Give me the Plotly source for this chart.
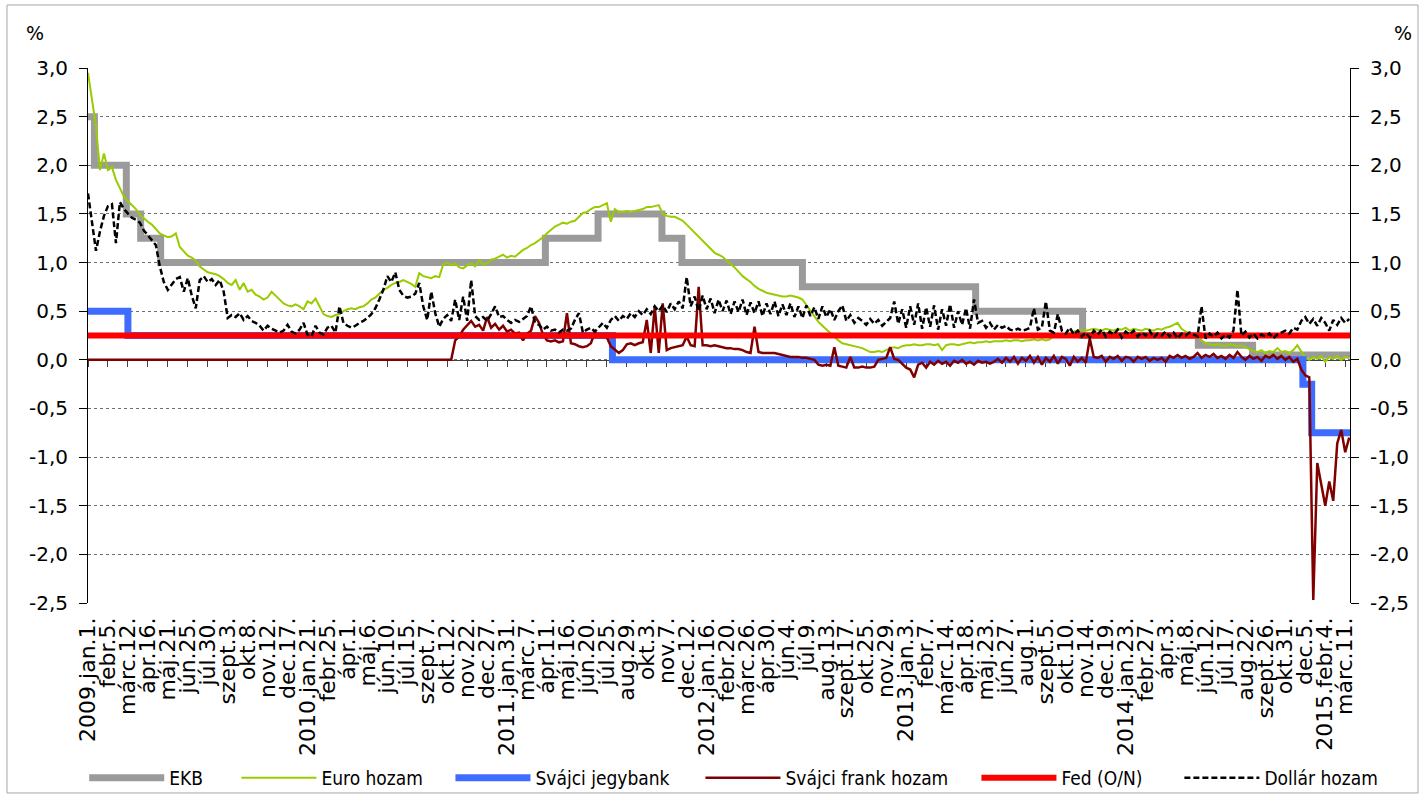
import plotly.graph_objects as go

# ---- category labels (every 25th business day) ----
tick_labels = [
    "2009.jan.1.", "febr.5.", "márc.12.", "ápr.16.", "máj.21.", "jún.25.", "júl.30.",
    "szept.3.", "okt.8.", "nov.12.", "dec.17.",
    "2010.jan.21.", "febr.25.", "ápr.1.", "máj.6.", "jún.10.", "júl.15.", "szept.7.",
    "okt.12.", "nov.22.", "dec.27.",
    "2011.jan.31.", "márc.7.", "ápr.11.", "máj.16.", "jún.20.", "júl.25.", "aug.29.",
    "okt.3.", "nov.7.", "dec.12.",
    "2012.jan.16.", "febr.20.", "márc.26.", "ápr.30.", "jún.4.", "júl.9.", "aug.13.",
    "szept.17.", "okt.25.", "nov.29.",
    "2013.jan.3.", "febr.7.", "márc.14.", "ápr.18.", "máj.23.", "jún.27.", "aug.1.",
    "szept.5.", "okt.10.", "nov.14.", "dec.19.",
    "2014.jan.23.", "febr.27.", "ápr.3.", "máj.8.", "jún.12.", "júl.17.", "aug.22.",
    "szept.26.", "okt.31.", "dec.5.",
    "2015.febr.4.", "márc.11.",
]
LABEL_EVERY = 25          # business days between category labels
LAST_DAY = 1581           # last business-day index shown

# ---- policy rates (step series: business-day index of change, new level) ----
ekb_day = [0, 8, 48, 66, 91, 573, 639, 719, 744, 895, 1112, 1246, 1391, 1459, 1581]
ekb_rate = [2.5, 2.0, 1.5, 1.25, 1.0, 1.25, 1.5, 1.25, 1.0, 0.75, 0.5, 0.25, 0.15, 0.05, 0.05]

snb_day = [0, 50, 657, 1522, 1533, 1581]
snb_rate = [0.5, 0.25, 0.0, -0.25, -0.75, -0.75]

fed_day = [0, 1581]
fed_rate = [0.25, 0.25]

# ---- market yields, one observation every 5 business days ----
OBS_STEP = 5

euro_yield = [
    2.95, 2.65, 2.40, 1.95, 2.12, 1.95, 1.98, 1.85, 1.76, 1.68, 1.63, 1.59, 1.55, 1.49, 1.45, 1.42, 1.39, 1.35, 1.30, 1.28,
    1.26, 1.27, 1.30, 1.16, 1.11, 1.07, 1.05, 1.02, 0.96, 0.93, 0.90, 0.89, 0.88, 0.86, 0.83, 0.79, 0.77, 0.82, 0.72, 0.79,
    0.70, 0.72, 0.67, 0.65, 0.62, 0.64, 0.70, 0.66, 0.62, 0.58, 0.56, 0.55, 0.57, 0.55, 0.52, 0.60, 0.58, 0.63, 0.55, 0.47,
    0.45, 0.44, 0.46, 0.47, 0.50, 0.52, 0.53, 0.52, 0.54, 0.55, 0.58, 0.62, 0.64, 0.68, 0.72, 0.74, 0.77, 0.79, 0.80, 0.82,
    0.80, 0.78, 0.75, 0.89, 0.86, 0.85, 0.84, 0.86, 0.85, 0.98, 1.00, 0.97, 0.99, 0.95, 0.94, 0.97, 0.99, 0.96, 1.02, 0.98,
    0.99, 1.03, 1.04, 1.06, 1.08, 1.05, 1.07, 1.06, 1.10, 1.13, 1.15, 1.18, 1.20, 1.23, 1.26, 1.30, 1.34, 1.37, 1.39, 1.41,
    1.40, 1.42, 1.43, 1.47, 1.51, 1.52, 1.55, 1.57, 1.57, 1.59, 1.61, 1.42, 1.55, 1.52, 1.52, 1.53, 1.52, 1.53, 1.54, 1.55,
    1.57, 1.57, 1.58, 1.59, 1.50, 1.48, 1.47, 1.47, 1.45, 1.43, 1.39, 1.35, 1.31, 1.27, 1.22, 1.18, 1.14, 1.10, 1.08, 1.06,
    1.02, 0.99, 0.95, 0.90, 0.86, 0.83, 0.80, 0.76, 0.73, 0.71, 0.69, 0.68, 0.67, 0.66, 0.65, 0.65, 0.66, 0.65, 0.64, 0.62,
    0.56, 0.50, 0.44, 0.39, 0.35, 0.31, 0.27, 0.23, 0.20, 0.17, 0.16, 0.15, 0.14, 0.13, 0.12, 0.10, 0.08, 0.08, 0.09, 0.08,
    0.10, 0.12, 0.13, 0.12, 0.14, 0.15, 0.15, 0.16, 0.15, 0.15, 0.16, 0.16, 0.15, 0.16, 0.10, 0.15, 0.16, 0.16, 0.15, 0.16,
    0.17, 0.18, 0.17, 0.18, 0.18, 0.19, 0.18, 0.19, 0.19, 0.19, 0.20, 0.19, 0.20, 0.20, 0.19, 0.20, 0.20, 0.21, 0.20, 0.21,
    0.20, 0.21, 0.25, 0.26, 0.27, 0.26, 0.27, 0.29, 0.30, 0.31, 0.30, 0.31, 0.32, 0.31, 0.30, 0.32, 0.31, 0.30, 0.32, 0.31,
    0.33, 0.30, 0.32, 0.31, 0.30, 0.32, 0.31, 0.30, 0.32, 0.31, 0.33, 0.34, 0.36, 0.38, 0.32, 0.29, 0.28, 0.26, 0.24, 0.20,
    0.17, 0.16, 0.15, 0.16, 0.15, 0.14, 0.16, 0.15, 0.14, 0.15, 0.13, 0.11, 0.09, 0.08, 0.10, 0.07, 0.09, 0.08, 0.12, 0.08,
    0.09, 0.07, 0.10, 0.15, 0.08, 0.02, 0.00, 0.03, 0.01, 0.04, -0.02, 0.03, 0.01, 0.04, 0.00, 0.03, 0.02,
]

chf_yield = [
    0.00, 0.00, 0.00, 0.00, 0.00, 0.00, 0.00, 0.00, 0.00, 0.00, 0.00, 0.00, 0.00, 0.00, 0.00, 0.00, 0.00, 0.00, 0.00, 0.00,
    0.00, 0.00, 0.00, 0.00, 0.00, 0.00, 0.00, 0.00, 0.00, 0.00, 0.00, 0.00, 0.00, 0.00, 0.00, 0.00, 0.00, 0.00, 0.00, 0.00,
    0.00, 0.00, 0.00, 0.00, 0.00, 0.00, 0.00, 0.00, 0.00, 0.00, 0.00, 0.00, 0.00, 0.00, 0.00, 0.00, 0.00, 0.00, 0.00, 0.00,
    0.00, 0.00, 0.00, 0.00, 0.00, 0.00, 0.00, 0.00, 0.00, 0.00, 0.00, 0.00, 0.00, 0.00, 0.00, 0.00, 0.00, 0.00, 0.00, 0.00,
    0.00, 0.00, 0.00, 0.00, 0.00, 0.00, 0.00, 0.00, 0.00, 0.00, 0.00, 0.00, 0.20, 0.24, 0.31, 0.36, 0.40, 0.34, 0.36, 0.30,
    0.44, 0.33, 0.37, 0.31, 0.35, 0.29, 0.31, 0.27, 0.28, 0.20, 0.27, 0.30, 0.45, 0.38, 0.26, 0.20, 0.19, 0.20, 0.18, 0.19,
    0.48, 0.17, 0.16, 0.14, 0.13, 0.14, 0.17, 0.28, 0.24, 0.24, 0.23, 0.14, 0.10, 0.07, 0.10, 0.16, 0.17, 0.15, 0.17, 0.18,
    0.41, 0.07, 0.55, 0.07, 0.58, 0.10, 0.12, 0.13, 0.14, 0.15, 0.24, 0.15, 0.14, 0.75, 0.15, 0.15, 0.14, 0.15, 0.14, 0.13,
    0.12, 0.12, 0.11, 0.11, 0.10, 0.08, 0.07, 0.34, 0.08, 0.07, 0.07, 0.07, 0.07, 0.06, 0.05, 0.04, 0.03, 0.03, 0.03, 0.02,
    0.02, 0.01, 0.00, -0.05, -0.06, -0.05, -0.06, 0.13, -0.06, -0.07, -0.08, 0.03, -0.08, -0.08, -0.07, -0.08, -0.08, -0.07, 0.00, 0.01,
    0.02, 0.13, 0.01, 0.00, -0.04, -0.08, -0.10, -0.18, -0.05, -0.03, -0.08, -0.02, -0.05, -0.01, -0.04, -0.02, -0.06, -0.01, -0.03, 0.00,
    -0.04, -0.02, -0.05, -0.01, -0.03, -0.02, -0.04, -0.02, 0.01, -0.03, 0.02, -0.02, 0.03, -0.04, 0.02, -0.01, 0.04, -0.03, 0.03, -0.05,
    0.02, -0.02, 0.04, -0.04, 0.03, 0.01, -0.06, 0.03, -0.02, 0.02, -0.03, 0.22, 0.03, 0.02, 0.04, -0.02, 0.03, 0.01, 0.04, -0.01,
    0.03, 0.02, -0.02, 0.03, 0.01, 0.03, -0.01, 0.02, 0.00, 0.02, -0.02, 0.04, 0.02, 0.05, 0.02, 0.04, 0.01, 0.03, 0.07, 0.02,
    0.05, 0.03, 0.06, 0.02, 0.04, 0.01, 0.05, 0.02, 0.08, 0.03, 0.00, 0.04, 0.01, 0.03, -0.01, 0.04, 0.02, 0.05, 0.01, 0.04,
    0.00, 0.03, -0.02, 0.01, -0.10, -0.16, -0.18, -2.47, -1.06, -1.30, -1.50, -1.25, -1.45, -0.86, -0.72, -0.95, -0.80,
]

usd_yield = [
    1.71, 1.40, 1.12, 1.32, 1.48, 1.58, 1.60, 1.20, 1.62, 1.55, 1.50, 1.46, 1.44, 1.41, 1.33, 1.28, 1.24, 1.18, 0.96, 0.80,
    0.72, 0.78, 0.83, 0.85, 0.70, 0.84, 0.66, 0.53, 0.82, 0.86, 0.80, 0.83, 0.77, 0.82, 0.70, 0.43, 0.46, 0.44, 0.48, 0.41,
    0.45, 0.40, 0.38, 0.35, 0.30, 0.35, 0.32, 0.30, 0.28, 0.30, 0.36, 0.29, 0.27, 0.31, 0.38, 0.26, 0.24, 0.35, 0.28, 0.26,
    0.33, 0.35, 0.28, 0.55, 0.38, 0.35, 0.33, 0.35, 0.38, 0.40, 0.43, 0.47, 0.53, 0.62, 0.72, 0.86, 0.80, 0.90, 0.72, 0.66,
    0.64, 0.65, 0.68, 0.79, 0.55, 0.41, 0.70, 0.48, 0.34, 0.42, 0.46, 0.40, 0.62, 0.41, 0.65, 0.40, 0.82, 0.45, 0.41, 0.44,
    0.40, 0.47, 0.55, 0.44, 0.45, 0.41, 0.38, 0.41, 0.39, 0.42, 0.45, 0.55, 0.38, 0.36, 0.31, 0.34, 0.30, 0.31, 0.28, 0.31,
    0.30, 0.32, 0.41, 0.48, 0.28, 0.31, 0.33, 0.29, 0.34, 0.38, 0.33, 0.41, 0.45, 0.40, 0.45, 0.42, 0.48, 0.44, 0.50, 0.46,
    0.52, 0.47, 0.55, 0.50, 0.56, 0.49, 0.58, 0.52, 0.60, 0.53, 0.85, 0.55, 0.65, 0.50, 0.66, 0.52, 0.63, 0.48, 0.62, 0.50,
    0.61, 0.47, 0.60, 0.49, 0.62, 0.46, 0.59, 0.48, 0.60, 0.45, 0.58, 0.47, 0.60, 0.45, 0.57, 0.46, 0.58, 0.44, 0.55, 0.43,
    0.56, 0.45, 0.54, 0.42, 0.55, 0.44, 0.52, 0.41, 0.50, 0.56, 0.40, 0.46, 0.38, 0.43, 0.40, 0.36, 0.42, 0.37, 0.41, 0.35,
    0.39, 0.43, 0.60, 0.37, 0.52, 0.33, 0.55, 0.36, 0.58, 0.32, 0.54, 0.34, 0.56, 0.31, 0.52, 0.35, 0.57, 0.33, 0.50, 0.36,
    0.53, 0.32, 0.62, 0.38, 0.40, 0.33, 0.38, 0.31, 0.36, 0.33, 0.35, 0.31, 0.30, 0.32, 0.30, 0.31, 0.33, 0.53, 0.31, 0.33,
    0.60, 0.30, 0.28, 0.47, 0.30, 0.27, 0.33, 0.26, 0.30, 0.24, 0.28, 0.23, 0.30, 0.26, 0.31, 0.24, 0.29, 0.26, 0.31, 0.23,
    0.29, 0.26, 0.30, 0.24, 0.28, 0.25, 0.30, 0.23, 0.27, 0.25, 0.29, 0.24, 0.28, 0.22, 0.27, 0.25, 0.28, 0.26, 0.24, 0.55,
    0.22, 0.27, 0.24, 0.28, 0.22, 0.26, 0.23, 0.30, 0.72, 0.25, 0.29, 0.23, 0.27, 0.22, 0.26, 0.24, 0.27, 0.22, 0.26, 0.28,
    0.30, 0.27, 0.33, 0.31, 0.40, 0.44, 0.37, 0.42, 0.35, 0.43, 0.38, 0.30, 0.41, 0.36, 0.43, 0.38, 0.42,
]

obs_day = [i * OBS_STEP for i in range(len(euro_yield))]

Y_MIN, Y_MAX, Y_STEP = -2.5, 3.0, 0.5
y_ticks = [Y_MIN + i * Y_STEP for i in range(int(round((Y_MAX - Y_MIN) / Y_STEP)) + 1)]
y_tick_text = [f"{v:.1f}".replace(".", ",") for v in y_ticks]
tick_days = [k * LABEL_EVERY for k in range(len(tick_labels))]

TEXT_FONT = "DejaVu Sans, Verdana, sans-serif"
LEGEND_FONT = "DejaVu Sans Condensed, Liberation Sans Narrow, sans-serif"

fig = go.Figure()

# main layer: policy rates of ECB / SNB and the two European yields
fig.add_trace(go.Scatter(x=ekb_day, y=ekb_rate, name="EKB", mode="lines", legend="legend",
                         line=dict(color="#9b9b9b", width=7, shape="hv")))
fig.add_trace(go.Scatter(x=obs_day, y=euro_yield, name="Euro hozam", mode="lines", legend="legend2",
                         line=dict(color="#99cc00", width=2)))
fig.add_trace(go.Scatter(x=snb_day, y=snb_rate, name="Svájci jegybank", mode="lines", legend="legend3",
                         line=dict(color="#3d6cff", width=7, shape="hv")))
fig.add_trace(go.Scatter(x=obs_day, y=chf_yield, name="Svájci frank hozam", mode="lines", legend="legend4",
                         line=dict(color="#800000", width=2.5)))
# overlay layer: Fed rate and dollar yield drawn on top
fig.add_trace(go.Scatter(x=fed_day, y=fed_rate, name="Fed (O/N)", mode="lines", legend="legend5",
                         xaxis="x2", yaxis="y2",
                         line=dict(color="#ff0000", width=6)))
fig.add_trace(go.Scatter(x=obs_day, y=usd_yield, name="Dollár hozam", mode="lines", legend="legend6",
                         xaxis="x2", yaxis="y2",
                         line=dict(color="#000000", width=2.5, dash="6px,3px")))

zero_pos = (0 - Y_MIN) / (Y_MAX - Y_MIN)

y_common = dict(range=[Y_MIN, Y_MAX], tickmode="array", tickvals=y_ticks, ticktext=y_tick_text,
                ticks="outside", ticklen=8, tickcolor="#000000", ticklabelstandoff=7,
                showline=True, linecolor="#000000", linewidth=1,
                zeroline=False, fixedrange=True, automargin=False,
                tickfont=dict(family=TEXT_FONT, size=20, color="#000000"))


def legend_box(x):
    return dict(orientation="h", x=x, y=-0.327, xanchor="left", yanchor="middle",
                itemwidth=75, bgcolor="rgba(0,0,0,0)",
                font=dict(family=LEGEND_FONT, size=19, color="#000000"))


fig.update_layout(
    width=1426, height=798,
    margin=dict(l=88, r=76, t=68, b=195, autoexpand=False),
    paper_bgcolor="#ffffff", plot_bgcolor="#ffffff",
    showlegend=True,
    legend=legend_box(-0.003),
    legend2=legend_box(0.1176),
    legend3=legend_box(0.2872),
    legend4=legend_box(0.4853),
    legend5=legend_box(0.7040),
    legend6=legend_box(0.8648),
    xaxis=dict(range=[0, LAST_DAY], tickmode="array", tickvals=tick_days, ticktext=tick_labels,
               tickangle=-90, ticks="", showgrid=False, zeroline=False, showline=False,
               ticklabelstandoff=9, automargin=False,
               tickfont=dict(family=TEXT_FONT, size=22, color="#000000")),
    xaxis2=dict(range=[0, LAST_DAY], overlaying="x", anchor="free", position=zero_pos,
                tickmode="array", tickvals=tick_days, showticklabels=False,
                ticks="outside", ticklen=6, tickcolor="#404040",
                showline=True, linecolor="#404040", linewidth=1,
                showgrid=False, zeroline=False, layer="below traces"),
    yaxis=dict(**y_common, showgrid=True, gridcolor="#6e6e6e", gridwidth=1, griddash="dot"),
    yaxis2=dict(**y_common, overlaying="y", side="right", anchor="x", showgrid=False),
    annotations=[
        dict(text="%", xref="paper", yref="paper", x=-0.042, y=1.065, xanchor="center", yanchor="middle",
             showarrow=False, font=dict(family=TEXT_FONT, size=19, color="#000000")),
        dict(text="%", xref="paper", yref="paper", x=1.042, y=1.065, xanchor="center", yanchor="middle",
             showarrow=False, font=dict(family=TEXT_FONT, size=19, color="#000000")),
    ],
    shapes=[
        dict(type="rect", xref="paper", yref="paper", x0=-0.0642, x1=1.0539, y0=-0.3551, y1=1.1178,
             line=dict(color="#a6a6a6", width=1), fillcolor="rgba(0,0,0,0)", layer="below"),
    ],
)

fig.write_html("out.html")
